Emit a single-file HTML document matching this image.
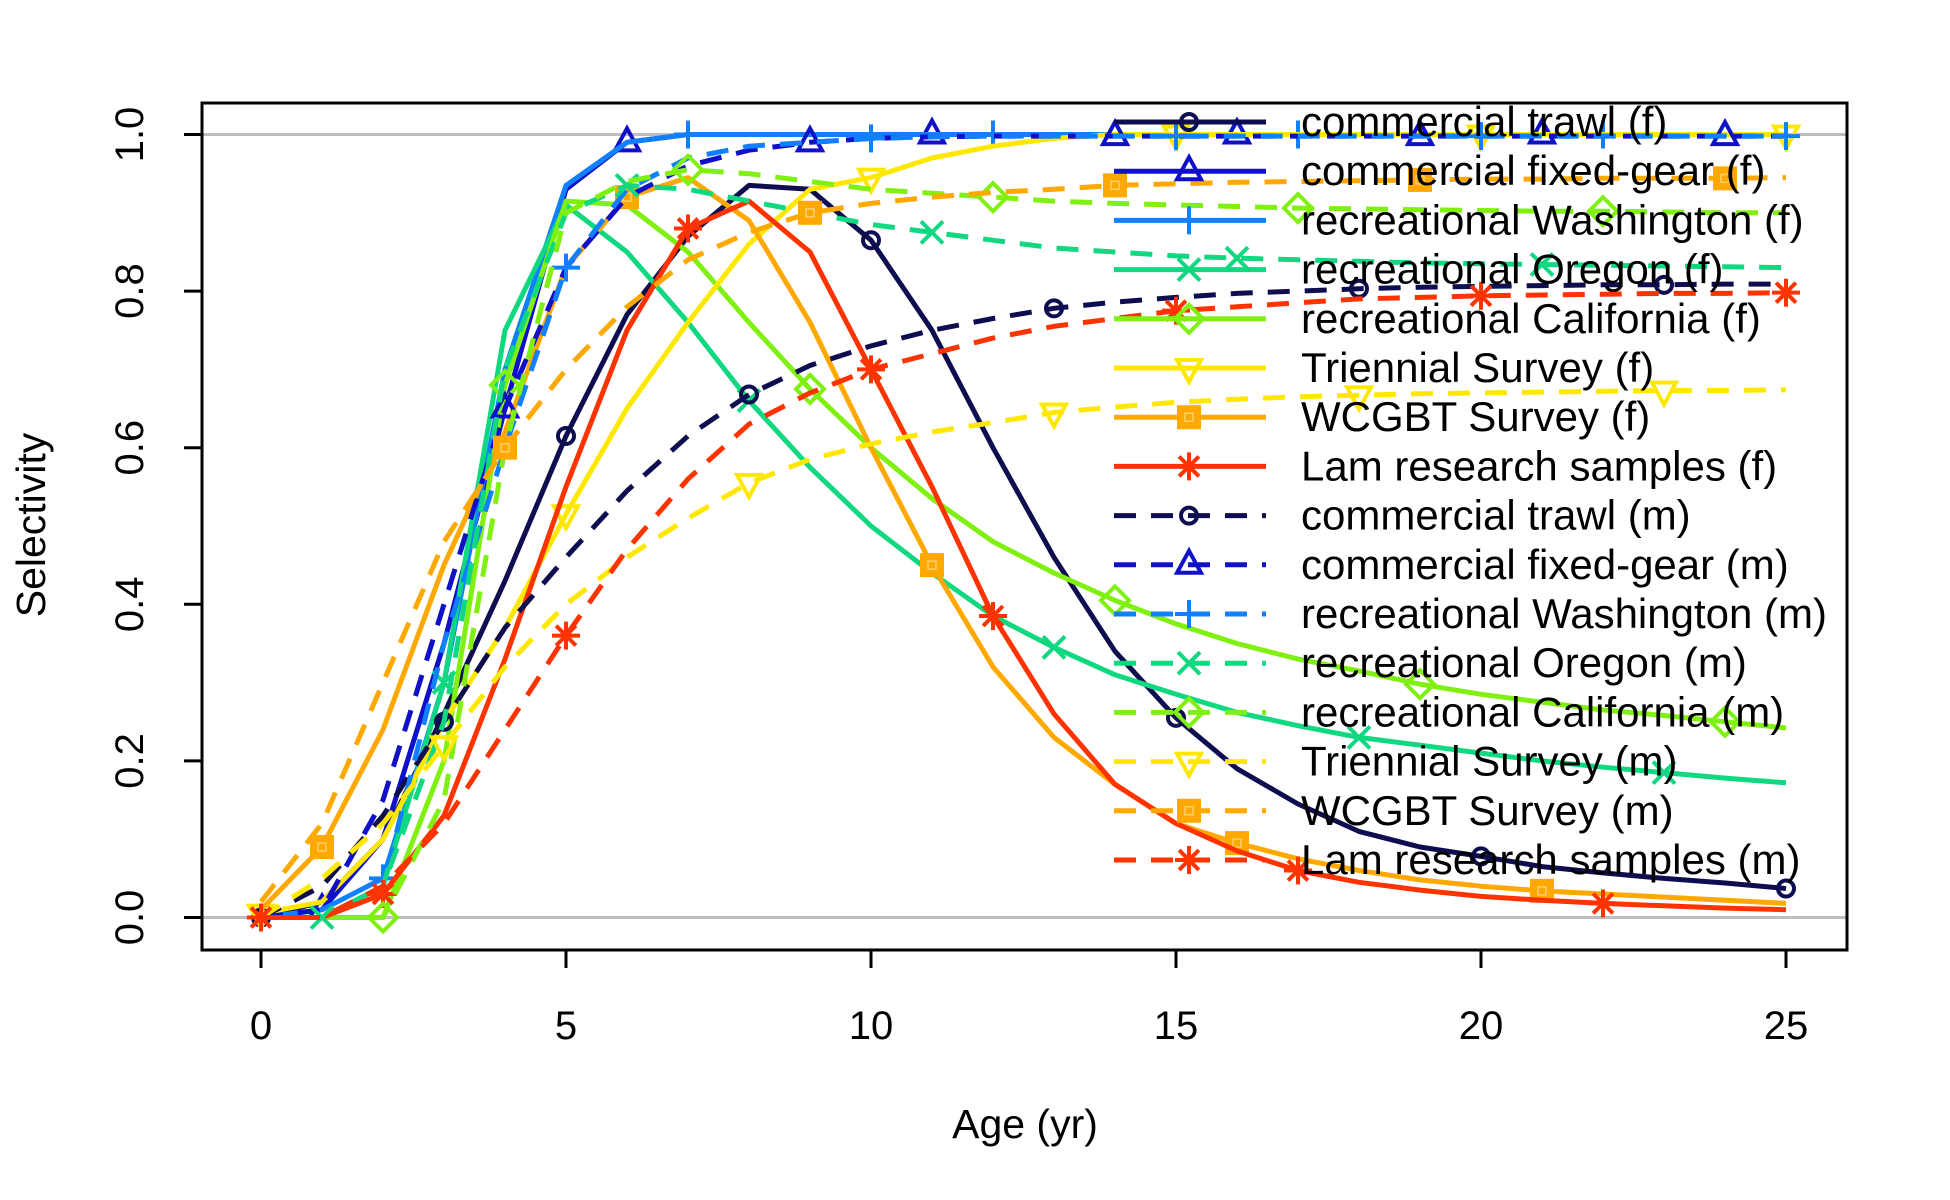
<!DOCTYPE html>
<html><head><meta charset="utf-8">
<style>
html,body{margin:0;padding:0;background:#fff;}
svg{display:block;font-family:"Liberation Sans",Arial,sans-serif;}
</style></head>
<body>
<svg id="chart" width="1950" height="1200" viewBox="0 0 1950 1200" xmlns="http://www.w3.org/2000/svg">
<g id="grid"></g>
<g id="series"></g>
<g id="legend"></g>
<rect x="202" y="103" width="1645" height="847" fill="none" stroke="#000" stroke-width="3"/>
<g id="axes"></g>
<text x="1025" y="1138" font-size="41" text-anchor="middle">Age (yr)</text>
<text transform="translate(45,525) rotate(-90)" font-size="41" text-anchor="middle">Selectivity</text>
</svg>
<script>
const ages = Array.from({length:26},(_,i)=>i);
const xTicks = [0,5,10,15,20,25];
const yTicks = [0.0,0.2,0.4,0.6,0.8,1.0];
const yTickLabels = ["0.0","0.2","0.4","0.6","0.8","1.0"];
const seriesNames = ["commercial trawl (f)","commercial fixed-gear (f)","recreational Washington (f)","recreational Oregon (f)","recreational California (f)","Triennial Survey (f)","WCGBT Survey (f)","Lam research samples (f)","commercial trawl (m)","commercial fixed-gear (m)","recreational Washington (m)","recreational Oregon (m)","recreational California (m)","Triennial Survey (m)","WCGBT Survey (m)","Lam research samples (m)"];
const trawlF = [0,0.02,0.1,0.26,0.43,0.615,0.77,0.87,0.935,0.93,0.865,0.75,0.6,0.46,0.34,0.255,0.19,0.145,0.11,0.09,0.078,0.065,0.057,0.05,0.044,0.037];
const fixedF = [0,0.01,0.1,0.35,0.65,0.93,0.99,1,1,1,1,1,1,1,1,1,1,1,1,1,1,1,1,1,1,1];
const waF = [0,0.01,0.05,0.3,0.7,0.935,0.99,1,1,1,1,1,1,1,1,1,1,1,1,1,1,1,1,1,1,1];
const orF = [0,0,0.04,0.3,0.75,0.91,0.85,0.76,0.66,0.575,0.5,0.44,0.385,0.345,0.31,0.285,0.262,0.245,0.23,0.22,0.21,0.2,0.192,0.185,0.178,0.172];
const caF = [0,0,0,0.2,0.68,0.915,0.91,0.85,0.76,0.675,0.6,0.535,0.48,0.44,0.405,0.375,0.35,0.33,0.315,0.298,0.285,0.275,0.265,0.258,0.25,0.242];
const triF = [0.005,0.02,0.1,0.25,0.37,0.515,0.65,0.76,0.86,0.93,0.945,0.97,0.985,0.995,1,1,1,1,1,1,1,1,1,1,1,1];
const wcF = [0.01,0.09,0.24,0.45,0.62,0.83,0.92,0.945,0.89,0.76,0.6,0.45,0.32,0.23,0.17,0.12,0.095,0.075,0.06,0.048,0.04,0.034,0.03,0.026,0.022,0.018];
const lamF = [0,0,0.03,0.13,0.33,0.55,0.75,0.88,0.915,0.85,0.7,0.55,0.385,0.26,0.17,0.12,0.085,0.06,0.045,0.035,0.027,0.022,0.018,0.015,0.012,0.01];
const trawlM = [0,0.04,0.13,0.25,0.37,0.46,0.545,0.615,0.668,0.705,0.73,0.75,0.765,0.778,0.786,0.792,0.797,0.8,0.803,0.805,0.806,0.807,0.808,0.808,0.809,0.809];
const fixedM = [0,0.01,0.15,0.4,0.65,0.83,0.92,0.96,0.98,0.99,0.995,0.997,0.998,0.998,0.998,0.998,0.998,0.998,0.998,0.998,0.998,0.998,0.998,0.998,0.998,0.998];
const waM = [0,0,0.04,0.35,0.6,0.83,0.93,0.97,0.985,0.99,0.995,0.997,0.998,0.998,0.998,0.998,0.998,0.998,0.998,0.998,0.998,0.998,0.998,0.998,0.998,0.998];
const orM = [0,0,0.04,0.25,0.7,0.9,0.935,0.93,0.915,0.9,0.885,0.875,0.865,0.855,0.85,0.845,0.842,0.84,0.838,0.836,0.835,0.834,0.833,0.832,0.831,0.83];
const caM = [0,0,0,0.15,0.6,0.9,0.94,0.955,0.95,0.94,0.93,0.925,0.92,0.915,0.912,0.91,0.908,0.906,0.905,0.904,0.903,0.902,0.902,0.901,0.9,0.9];
const triM = [0,0.05,0.12,0.22,0.32,0.4,0.46,0.51,0.555,0.585,0.605,0.62,0.632,0.645,0.652,0.658,0.662,0.665,0.667,0.669,0.67,0.671,0.672,0.673,0.673,0.674];
const wcM = [0.02,0.12,0.3,0.48,0.6,0.7,0.78,0.84,0.875,0.9,0.912,0.92,0.926,0.93,0.935,0.937,0.939,0.94,0.941,0.942,0.943,0.943,0.944,0.944,0.944,0.945];
const lamM = [0,0,0.04,0.12,0.24,0.36,0.47,0.56,0.63,0.67,0.7,0.72,0.74,0.755,0.765,0.775,0.78,0.785,0.79,0.792,0.794,0.795,0.796,0.797,0.797,0.798];
const seriesValues = [trawlF,fixedF,waF,orF,caF,triF,wcF,lamF,trawlM,fixedM,waM,orM,caM,triM,wcM,lamM];
const colors = ["#0d0d4f","#1010c8","#1080ff","#10d880","#80f010","#ffe800","#ffa800","#ff3300"];
const markers = ["circle","tri","plus","x","diamond","dtri","square","star"];
const markerOffsets = [0,1,2,3,4,0,1,2,3,4,0,1,2,3,4,0];

const NS="http://www.w3.org/2000/svg";
const X0=261,X1=1786,Y0=917.5,Y1=134.5;
function xs(a){return X0+(a-0)/(25-0)*(X1-X0);}
function ys(v){return Y0+(v-0)/(1-0)*(Y1-Y0);}
function mk(tag,attrs,parent){const e=document.createElementNS(NS,tag);for(const k in attrs)e.setAttribute(k,attrs[k]);parent.appendChild(e);return e;}

const grid=document.getElementById('grid');
[0,1].forEach(v=>{
  const l=mk('line',{x1:202,x2:1847,y1:ys(v),y2:ys(v),stroke:'#bebebe','stroke-width':3},grid);
  
  
});

function drawMarker(type,cx,cy,col,parent){
  const g=mk('g',{fill:'none',stroke:col,'stroke-width':4},parent);
  const s=11;
  if(type==='circle') mk('circle',{cx,cy,r:8},g);
  else if(type==='tri') mk('polygon',{points:`${cx},${cy-14} ${cx-12},${cy+8} ${cx+12},${cy+8}`},g);
  else if(type==='dtri') mk('polygon',{points:`${cx},${cy+14} ${cx-12},${cy-8} ${cx+12},${cy-8}`},g);
  else if(type==='plus'){mk('line',{x1:cx-14,x2:cx+14,y1:cy,y2:cy},g);mk('line',{x1:cx,x2:cx,y1:cy-14,y2:cy+14},g);}
  else if(type==='x'){mk('line',{x1:cx-s,x2:cx+s,y1:cy-s,y2:cy+s},g);mk('line',{x1:cx-s,x2:cx+s,y1:cy+s,y2:cy-s},g);}
  else if(type==='diamond') mk('polygon',{points:`${cx},${cy-14} ${cx+14},${cy} ${cx},${cy+14} ${cx-14},${cy}`},g);
  else if(type==='square'){g.setAttribute('fill',col);mk('rect',{x:cx-10,y:cy-10,width:20,height:20},g);mk('rect',{x:cx-4,y:cy-4,width:8,height:8,stroke:'#ffd070','stroke-width':1.5},g);}
  else if(type==='star'){for(let k=0;k<4;k++){const a=k*Math.PI/4;mk('line',{x1:cx-14*Math.cos(a),y1:cy-14*Math.sin(a),x2:cx+14*Math.cos(a),y2:cy+14*Math.sin(a)},g);}}
  return g;
}

const sg=document.getElementById('series');
seriesValues.forEach((vals,i)=>{
  const col=colors[i%8], dashed=i>=8;
  const g=mk('g',{},sg);
  
  
  const d=vals.map((v,k)=>(k?'L':'M')+xs(ages[k]).toFixed(1)+' '+ys(v).toFixed(1)).join(' ');
  const p=mk('path',{d,fill:'none',stroke:col,'stroke-width':5,'stroke-linejoin':'round'},g);
  if(dashed) p.setAttribute('stroke-dasharray','22 15');
  for(let k=markerOffsets[i];k<vals.length;k+=5){
    const m=drawMarker(markers[i%8],xs(ages[k]),ys(vals[k]),col,g);
    
    
  }
});

const lg=document.getElementById('legend');
seriesNames.forEach((nm,i)=>{
  const col=colors[i%8], y=122+i*49.2;
  const g=mk('g',{},lg);
  
  
  const l=mk('line',{x1:1114,x2:1266,y1:y,y2:y,stroke:col,'stroke-width':5},g);
  if(i>=8) l.setAttribute('stroke-dasharray','22 15');
  drawMarker(markers[i%8],1189,y,col,g);
  const t=mk('text',{x:1301,y:y+14,'font-size':42,fill:'#000'},g);
  t.textContent=nm;
});

const ax=document.getElementById('axes');
xTicks.forEach(v=>{
  const g=mk('g',{},ax);
  
  
  mk('line',{x1:xs(v),x2:xs(v),y1:950,y2:968,stroke:'#000','stroke-width':3},g);
  const t=mk('text',{x:xs(v),y:1039,'font-size':40,'text-anchor':'middle'},g);
  t.textContent=String(v);
});
yTicks.forEach((v,i)=>{
  const g=mk('g',{},ax);
  
  
  mk('line',{x1:184,x2:202,y1:ys(v),y2:ys(v),stroke:'#000','stroke-width':3},g);
  const t=mk('text',{transform:`translate(143,${ys(v)}) rotate(-90)`,'font-size':40,'text-anchor':'middle'},g);
  t.textContent=yTickLabels[i];
});
</script>
</body></html>
